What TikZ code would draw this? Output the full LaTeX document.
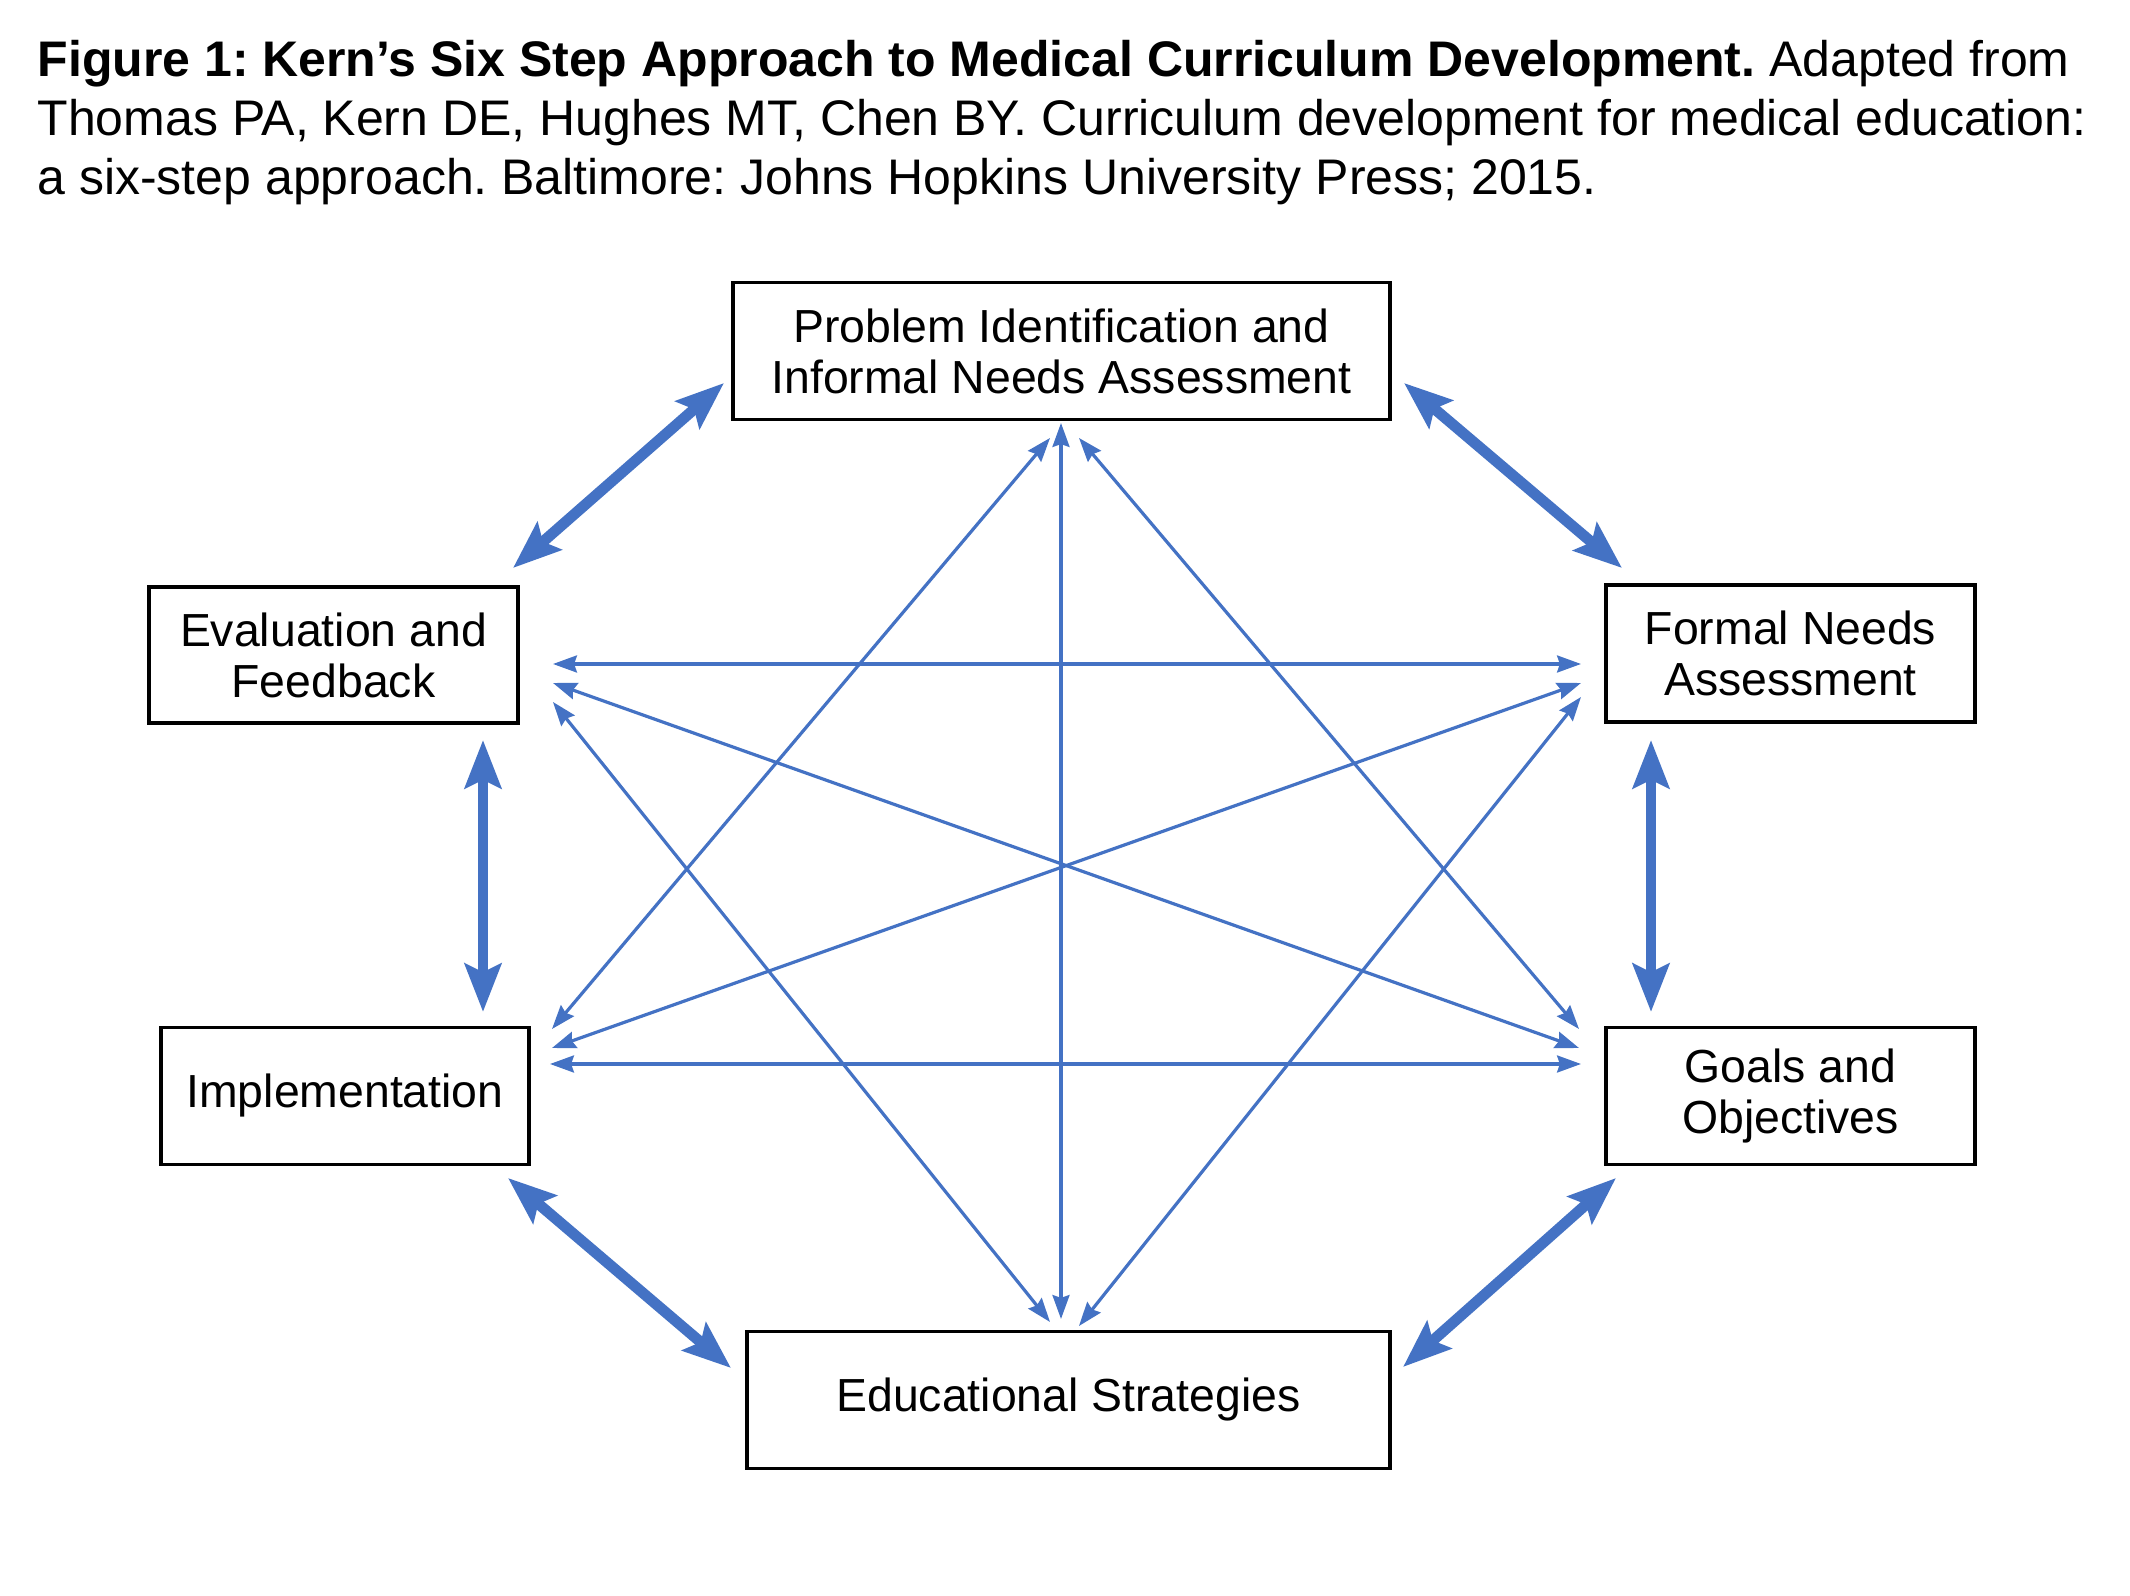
\documentclass[tikz,border=0pt]{standalone}
\usepackage{fontspec}
\setmainfont{Liberation Sans}
\usetikzlibrary{arrows.meta}
\definecolor{ablue}{HTML}{4472C4}
\frenchspacing
\begin{document}
\begin{tikzpicture}[x=0.36pt,y=-0.36pt,
  box/.style={draw=black,line width=1.25pt,rectangle,inner sep=0pt,align=center,
    font=\fontsize{16.7pt}{18.4pt}\selectfont},
  titletext/.style={anchor=base west,inner sep=0pt,font=\fontsize{18pt}{21.2pt}\selectfont},
  thickarr/.style={draw=ablue,line width=3.9pt,
    {Stealth[length=17.3pt,width=13pt,inset=3pt]}-{Stealth[length=17.3pt,width=13pt,inset=3pt]}},
  thinarr/.style={draw=ablue,line width=1.15pt,
    {Stealth[length=8.6pt,width=6.1pt,inset=1pt]}-{Stealth[length=8.6pt,width=6.1pt,inset=1pt]}}]
\useasboundingbox (0,0) rectangle (2130,1596);
\fill[white] (0,0) rectangle (2130,1596);

% title
\node[titletext] (title1) at (37,77) {\textbf{Figure 1: Kern’s Six Step Approach to Medical Curriculum Development.} Adapted from};
\node[titletext] (title2) at (37,136) {Thomas PA, Kern DE, Hughes MT, Chen BY. Curriculum development for medical education:};
\node[titletext] (title3) at (37,195) {a six-step approach. Baltimore: Johns Hopkins University Press; 2015.};

% boxes
\node[box,minimum width=236.5pt,minimum height=49.3pt] (prob) at (1061.5,351) {Problem Identification and\\Informal Needs Assessment};
\node[box,minimum width=132.8pt,minimum height=49pt] (eval) at (333.5,655) {Evaluation and\\Feedback};
\node[box,minimum width=132.8pt,minimum height=49.3pt] (formal) at (1790.5,653.5) {Formal Needs\\Assessment};
\node[box,minimum width=132.5pt,minimum height=49.3pt] (impl) at (345,1096) {Implementation};
\node[box,minimum width=132.8pt,minimum height=49.3pt] (goals) at (1790.5,1096) {Goals and\\Objectives};
\node[box,minimum width=231.5pt,minimum height=49.3pt] (edu) at (1068.5,1400) {Educational Strategies};

% thick arrow end points
\coordinate (t1a) at (513,568);   \coordinate (t1b) at (724,383);
\coordinate (t2a) at (1404,383);  \coordinate (t2b) at (1622,568);
\coordinate (t3a) at (1651,740);  \coordinate (t3b) at (1651,1012);
\coordinate (t4a) at (483,740);   \coordinate (t4b) at (483,1012);
\coordinate (t5a) at (508,1178);  \coordinate (t5b) at (731,1368);
\coordinate (t6a) at (1616,1178); \coordinate (t6b) at (1403,1367);

\draw[thickarr] (t1a) -- (t1b);
\draw[thickarr] (t2a) -- (t2b);
\draw[thickarr] (t3a) -- (t3b);
\draw[thickarr] (t4a) -- (t4b);
\draw[thickarr] (t5a) -- (t5b);
\draw[thickarr] (t6a) -- (t6b);

% thin arrow end points
\coordinate (h1a) at (553,664);   \coordinate (h1b) at (1581,664);
\coordinate (h2a) at (550,1064);  \coordinate (h2b) at (1581,1064);
\coordinate (va) at (1061,423);   \coordinate (vb) at (1061,1319);
\coordinate (d1a) at (1050,438);  \coordinate (d1b) at (552,1029);
\coordinate (d2a) at (1079,438);  \coordinate (d2b) at (1579,1029);
\coordinate (d3a) at (553,683);   \coordinate (d3b) at (1579,1048);
\coordinate (d4a) at (553,702);   \coordinate (d4b) at (1050,1322);
\coordinate (d5a) at (1581,683);  \coordinate (d5b) at (552,1048);
\coordinate (d6a) at (1581,697);  \coordinate (d6b) at (1079,1326);

\draw[thinarr] (h1a) -- (h1b);
\draw[thinarr] (h2a) -- (h2b);
\draw[thinarr] (va) -- (vb);
\draw[thinarr] (d1a) -- (d1b);
\draw[thinarr] (d2a) -- (d2b);
\draw[thinarr] (d3a) -- (d3b);
\draw[thinarr] (d4a) -- (d4b);
\draw[thinarr] (d5a) -- (d5b);
\draw[thinarr] (d6a) -- (d6b);
\end{tikzpicture}
\end{document}
